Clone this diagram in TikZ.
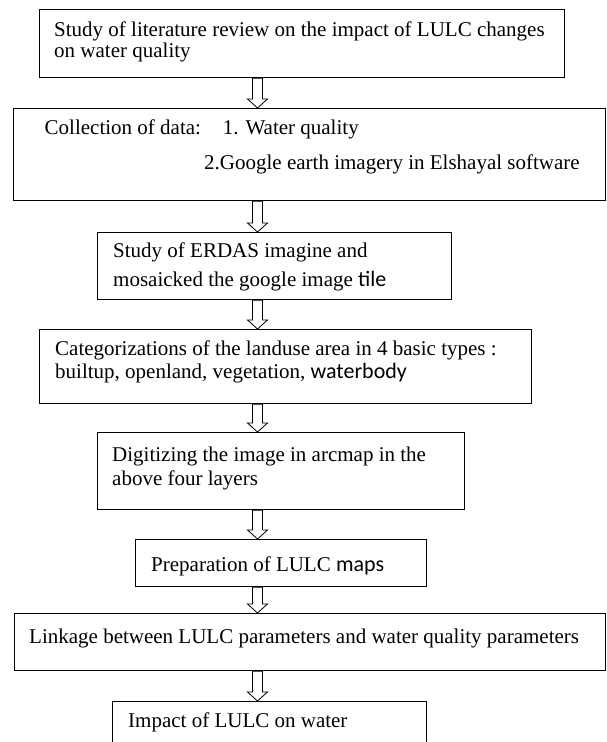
\documentclass[tikz,border=0pt]{standalone}
\usepackage{fontspec}
\setmainfont{Liberation Serif}
\newfontfamily\calib{Carlito}
\usetikzlibrary{calc}
\tikzset{
  box/.style={draw=black, line width=1.1pt, inner sep=0pt, anchor=north west, fill=white},
  txt/.style={inner sep=0pt, anchor=base west, font=\fontsize{21}{22}\selectfont, text=black},
  harr/.style={draw=black, line width=0.8pt, fill=white, line join=miter},
}
\newcommand\harrow[2]{%
  \draw[harr] ($(#1.south -| ax)+(-5,0)$) -- ($(#2.north -| ax)+(-5,-9)$) -- ++(-5,0)
     -- (#2.north -| ax) -- ++(10,-9) -- ++(-5,0) -- ($(#1.south -| ax)+(5,0)$) -- cycle;}
\begin{document}
\begin{tikzpicture}[x=1pt,y=-1pt]
\useasboundingbox (0,0) rectangle (607,742);
\clip (0,0) rectangle (607,742);
\fill[white] (0,0) rectangle (607,742);
\coordinate (ax) at (257.5,0);
% boxes
\node[box, minimum width=525pt, minimum height=68pt] (b1) at (39,9) {};
\node[box, minimum width=592pt, minimum height=92pt] (b2) at (13,108) {};
\node[box, minimum width=354pt, minimum height=67pt] (b3) at (97,232) {};
\node[box, minimum width=492pt, minimum height=74pt] (b4) at (39,329) {};
\node[box, minimum width=367pt, minimum height=77pt] (b5) at (97,432) {};
\node[box, minimum width=291pt, minimum height=47pt] (b6) at (135,539) {};
\node[box, minimum width=591pt, minimum height=57pt] (b7) at (14,613) {};
\node[box, minimum width=314pt, minimum height=70pt] (b8) at (112,701) {};
% texts
\node[txt] (t1a) at (54,36) {Study of literature review on the impact of LULC changes};
\node[txt] (t1b) at (54,57) {on water quality};
\node[txt] (t2a) at (44.5,134) {Collection of data:};
\node[txt] (t2b) at (222.6,134) {1. Water quality};
\node[txt] (t2c) at (204,169) {2.Google earth imagery in Elshayal software};
\node[txt] (t3a) at (113,257) {Study of ERDAS imagine and};
\node[txt] (t3b) at (113,286) {mosaicked the google image {\calib\fontsize{22}{22}\selectfont tile}};
\node[txt] (t4a) at (55,355) {Categorizations of the landuse area in 4 basic types :};
\node[txt] (t4b) at (55,378) {builtup, openland, vegetation, {\calib\fontsize{22}{22}\selectfont waterbody}};
\node[txt] (t5a) at (112,461) {Digitizing the image in arcmap in the};
\node[txt] (t5b) at (112,485) {above four layers};
\node[txt] (t6) at (151,571) {Preparation of LULC {\calib\fontsize{22}{22}\selectfont maps}};
\node[txt] (t7) at (29,643) {Linkage between LULC parameters and water quality parameters};
\node[txt] (t8) at (128,727) {Impact of LULC on water};
% arrows
\harrow{b1}{b2}
\harrow{b2}{b3}
\harrow{b3}{b4}
\harrow{b4}{b5}
\harrow{b5}{b6}
\harrow{b6}{b7}
\harrow{b7}{b8}
\end{tikzpicture}
\end{document}
